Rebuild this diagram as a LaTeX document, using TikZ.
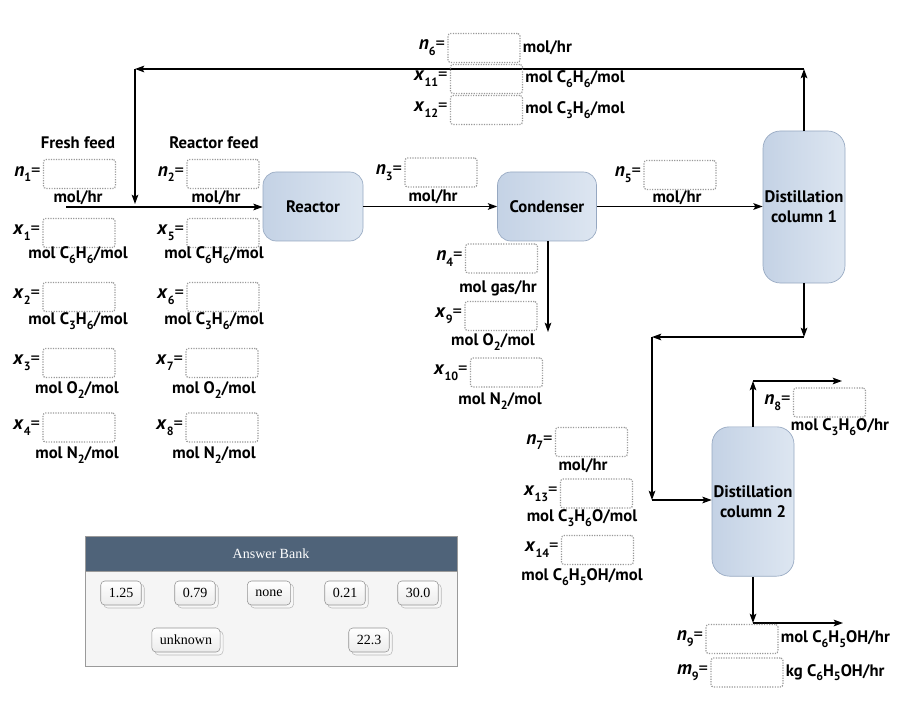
\documentclass[tikz,border=0pt]{standalone}
\usepackage{fontspec}
\setmainfont{PT Sans}
\newfontfamily\bankfont{Liberation Serif}
\usetikzlibrary{arrows.meta,shadows}
\newcommand\lowsub[1]{\raisebox{-0.55ex}{\fontsize{9}{10}\selectfont #1}}
\newcommand\vlab[2]{{\fontsize{14.5}{16}\selectfont\textit{#1}}\raisebox{-0.7ex}{\fontsize{9}{10}\selectfont #2}{\fontsize{14}{16}\selectfont\mdseries=}}
\definecolor{unitA}{HTML}{C4D2E5}
\definecolor{unitB}{HTML}{DDE6F1}
\definecolor{unitborder}{HTML}{96A8C1}
\definecolor{bankhead}{HTML}{4F6379}
\definecolor{bankbody}{HTML}{F5F5F5}
\definecolor{bankborder}{HTML}{9A9A9A}
\tikzset{
  lbl/.style={font=\bfseries\fontsize{12.5}{14}\selectfont, inner sep=0pt},
  valbox/.style={draw=gray!80, densely dotted, line width=0.9pt, rounded corners=2pt,
    minimum width=54pt, minimum height=21.75pt, inner sep=0pt},
  unit/.style={draw=unitborder, line width=0.5pt, rounded corners=10pt, left color=unitA, right color=unitB,
    font=\bfseries\fontsize{12.5}{15}\selectfont, align=center, inner sep=0pt},
  flow/.style={line width=0.9pt, -{Stealth[length=7pt,width=5pt,inset=1.5pt]}},
  ansbtn/.style={draw=gray!85, top color=white, bottom color=gray!15, rounded corners=3pt,
    minimum width=29pt, minimum height=18pt, inner xsep=6pt, inner ysep=0pt,
    font=\bankfont\fontsize{10.5}{12}\selectfont,
    copy shadow={shadow xshift=2.25pt, shadow yshift=-2.25pt, draw=gray!55, fill=gray!6}},
}
\begin{document}
\begin{tikzpicture}[x=0.75pt,y=-0.75pt]
\useasboundingbox (0,0) rectangle (920,709);

% process units
\node[unit, minimum width=75pt, minimum height=51.75pt] (reactor) at (313,206.5) {Reactor};
\node[unit, minimum width=74.25pt, minimum height=51.75pt] (cond) at (547,206.5) {Condenser};
\node[unit, rounded corners=13pt, minimum width=61.5pt, minimum height=114pt] (d1) at (804,207) {Distillation\\column 1};
\node[unit, rounded corners=13pt, minimum width=61.5pt, minimum height=112pt] (d2) at (753,501.5) {Distillation\\column 2};

% coordinates for connectors
\coordinate (fs) at (66,207);
\coordinate (tr) at (804,69);
\coordinate (tl) at (135,69);
\coordinate (fj) at (135,204);
\coordinate (gasout) at (548,332);
\coordinate (b1) at (804,337);
\coordinate (b2) at (652,337);
\coordinate (b3) at (652,500);
\coordinate (t2) at (753,381);
\coordinate (t2e) at (842,381);
\coordinate (bt) at (753,623);
\coordinate (bte) at (843,623);

% connectors
\draw[flow] (fs) -- (reactor.west |- fs);
\draw[flow] (d1.north) -- (tr);
\draw[flow] (tr) -- (tl);
\draw[flow] (tl) -- (fj);
\draw[flow] (reactor.east) -- (cond.west);
\draw[flow] (cond.east) -- (cond.east -| d1.west);
\draw[flow] (cond.south -| gasout) -- (gasout);
\draw[flow] (d1.south) -- (b1);
\draw[flow] (b1) -- (b2);
\draw[flow] (b2) -- (b3);
\draw[flow] (b3) -- (b3 -| d2.west);
\draw[flow] (d2.north) -- (t2);
\draw[flow] (t2) -- (t2e);
\draw[flow] (d2.south) -- (bt);
\draw[flow] (bt) -- (bte);

% Fresh feed column
\node[lbl] (ff) at (78,143) {Fresh feed};
\node[valbox] (bn1) at (79.5,174) {};
\node[lbl, anchor=east] (ln1) at ([xshift=-1.5pt]bn1.west) {\vlab{n}{1}};
\node[lbl] (un1) at (78,198) {mol/hr};
\node[valbox] (bx1) at (79,233) {};
\node[lbl, anchor=east] (lx1) at ([xshift=-1.5pt]bx1.west) {\vlab{x}{1}};
\node[lbl] (ux1) at (78,255) {mol C\lowsub{6}H\lowsub{6}/mol};
\node[valbox] (bx2) at (79,297) {};
\node[lbl, anchor=east] (lx2) at ([xshift=-1.5pt]bx2.west) {\vlab{x}{2}};
\node[lbl] (ux2) at (78,321) {mol C\lowsub{3}H\lowsub{6}/mol};
\node[valbox] (bx3) at (79,363) {};
\node[lbl, anchor=east] (lx3) at ([xshift=-1.5pt]bx3.west) {\vlab{x}{3}};
\node[lbl] (ux3) at (77,390) {mol O\lowsub{2}/mol};
\node[valbox] (bx4) at (79,427.5) {};
\node[lbl, anchor=east] (lx4) at ([xshift=-1.5pt]bx4.west) {\vlab{x}{4}};
\node[lbl] (ux4) at (77,455) {mol N\lowsub{2}/mol};

% Reactor feed column
\node[lbl] (rf) at (214,143) {Reactor feed};
\node[valbox] (bn2) at (223,174) {};
\node[lbl, anchor=east] (ln2) at ([xshift=-1.5pt]bn2.west) {\vlab{n}{2}};
\node[lbl] (un2) at (216,198) {mol/hr};
\node[valbox] (bx5) at (223,233) {};
\node[lbl, anchor=east] (lx5) at ([xshift=-1.5pt]bx5.west) {\vlab{x}{5}};
\node[lbl] (ux5) at (214,255) {mol C\lowsub{6}H\lowsub{6}/mol};
\node[valbox] (bx6) at (223,297) {};
\node[lbl, anchor=east] (lx6) at ([xshift=-1.5pt]bx6.west) {\vlab{x}{6}};
\node[lbl] (ux6) at (214,321) {mol C\lowsub{3}H\lowsub{6}/mol};
\node[valbox] (bx7) at (222,363) {};
\node[lbl, anchor=east] (lx7) at ([xshift=-1.5pt]bx7.west) {\vlab{x}{7}};
\node[lbl] (ux7) at (214,390) {mol O\lowsub{2}/mol};
\node[valbox] (bx8) at (222,427.5) {};
\node[lbl, anchor=east] (lx8) at ([xshift=-1.5pt]bx8.west) {\vlab{x}{8}};
\node[lbl] (ux8) at (214,455) {mol N\lowsub{2}/mol};

% Recycle stream
\node[valbox] (bn6) at (484,48) {};
\node[lbl, anchor=east] (ln6) at ([xshift=-1.5pt]bn6.west) {\vlab{n}{6}};
\node[lbl, anchor=west] (un6) at ([xshift=1.5pt]bn6.east) {mol/hr};
\node[valbox] (bx11) at (486.5,79) {};
\node[lbl, anchor=east] (lx11) at ([xshift=-1.5pt]bx11.west) {\vlab{x}{11}};
\node[lbl, anchor=west] (ux11) at ([xshift=1.5pt]bx11.east) {mol C\lowsub{6}H\lowsub{6}/mol};
\node[valbox] (bx12) at (486.5,110) {};
\node[lbl, anchor=east] (lx12) at ([xshift=-1.5pt]bx12.west) {\vlab{x}{12}};
\node[lbl, anchor=west] (ux12) at ([xshift=1.5pt]bx12.east) {mol C\lowsub{3}H\lowsub{6}/mol};

% Reactor outlet
\node[valbox] (bn3) at (441,172.5) {};
\node[lbl, anchor=east] (ln3) at ([xshift=-1.5pt]bn3.west) {\vlab{n}{3}};
\node[lbl] (un3) at (433,197) {mol/hr};

% Condenser liquid
\node[valbox] (bn5) at (680,175) {};
\node[lbl, anchor=east] (ln5) at ([xshift=-1.5pt]bn5.west) {\vlab{n}{5}};
\node[lbl] (un5) at (677,198) {mol/hr};

% Condenser gas
\node[valbox] (bn4) at (501.5,258.5) {};
\node[lbl, anchor=east] (ln4) at ([xshift=-1.5pt]bn4.west) {\vlab{n}{4}};
\node[lbl] (un4) at (498,288) {mol gas/hr};
\node[valbox] (bx9) at (501,316) {};
\node[lbl, anchor=east] (lx9) at ([xshift=-1.5pt]bx9.west) {\vlab{x}{9}};
\node[lbl] (ux9) at (493,342) {mol O\lowsub{2}/mol};
\node[valbox] (bx10) at (506.5,372.5) {};
\node[lbl, anchor=east] (lx10) at ([xshift=-1.5pt]bx10.west) {\vlab{x}{10}};
\node[lbl] (ux10) at (500,401) {mol N\lowsub{2}/mol};

% Column 1 bottoms
\node[valbox] (bn7) at (591.5,442) {};
\node[lbl, anchor=east] (ln7) at ([xshift=-1.5pt]bn7.west) {\vlab{n}{7}};
\node[lbl] (un7) at (583,466) {mol/hr};
\node[valbox] (bx13) at (596.5,493.5) {};
\node[lbl, anchor=east] (lx13) at ([xshift=-1.5pt]bx13.west) {\vlab{x}{13}};
\node[lbl] (ux13) at (582,518) {mol C\lowsub{3}H\lowsub{6}O/mol};
\node[valbox] (bx14) at (597.5,550) {};
\node[lbl, anchor=east] (lx14) at ([xshift=-1.5pt]bx14.west) {\vlab{x}{14}};
\node[lbl] (ux14) at (582,577) {mol C\lowsub{6}H\lowsub{5}OH/mol};

% Column 2 top
\node[valbox] (bn8) at (829.5,402.5) {};
\node[lbl, anchor=east] (ln8) at ([xshift=-1.5pt]bn8.west) {\vlab{n}{8}};
\node[lbl] (un8) at (840,427) {mol C\lowsub{3}H\lowsub{6}O/hr};

% Column 2 bottom
\node[valbox] (bn9) at (742,639) {};
\node[lbl, anchor=east] (ln9) at ([xshift=-1.5pt]bn9.west) {\vlab{n}{9}};
\node[lbl, anchor=west] (un9) at ([xshift=1.5pt]bn9.east) {mol C\lowsub{6}H\lowsub{5}OH/hr};
\node[valbox] (bm9) at (747,672.5) {};
\node[lbl, anchor=east] (lm9) at ([xshift=-1.5pt]bm9.west) {\vlab{m}{9}};
\node[lbl, anchor=west] (um9) at ([xshift=1.5pt]bm9.east) {kg C\lowsub{6}H\lowsub{5}OH/hr};

% Answer bank
\node[draw=bankborder, fill=bankbody, minimum width=279pt, minimum height=97.5pt, inner sep=0pt] (bank) at (271,601) {};
\node[draw=bankborder, fill=bankhead, text=white, minimum width=279pt, minimum height=26.25pt, inner sep=0pt,
  anchor=north, font=\bankfont\fontsize{10.5}{12}\selectfont] (bankhd) at (bank.north) {Answer Bank};
\node[ansbtn] (a1) at (121,593) {1.25};
\node[ansbtn] (a2) at (195,593) {0.79};
\node[ansbtn] (a3) at (269,593) {none};
\node[ansbtn] (a4) at (345,593) {0.21};
\node[ansbtn] (a5) at (418,593) {30.0};
\node[ansbtn] (a6) at (186,640) {unknown};
\node[ansbtn] (a7) at (369,640) {22.3};
\end{tikzpicture}
\end{document}
